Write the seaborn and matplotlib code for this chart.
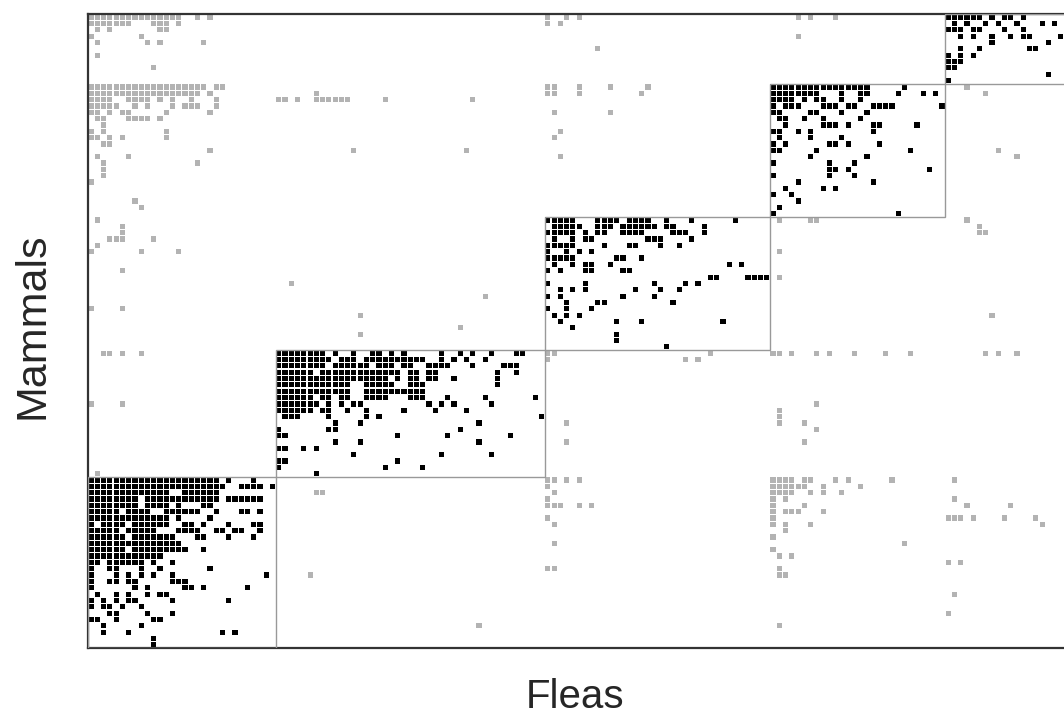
import numpy as np
import pandas as pd
import matplotlib
matplotlib.use("Agg")
import matplotlib.pyplot as plt
from matplotlib.patches import Rectangle
import seaborn as sns

sns.set_style("white")
plt.rcParams['font.family'] = ['Liberation Sans', 'DejaVu Sans']

n_mammals = 100
n_fleas = 156

# modules: first row, first column, number of rows, number of columns
module_row0 = [73, 53, 32, 11, 0]
module_col0 = [0, 30, 73, 109, 137]
module_nrow = [27, 20, 21, 21, 11]
module_ncol = [30, 43, 36, 28, 20]

# black cells inside each module, one string per row (local columns)
module1 = [
    "0-20 22 26", "0-21 24-27 29", "0-12 15-20", "0-7 9-20 22-27",
    "0-7 9-12 14 18 19", "0-4 6-9 12-17 20 24 25 27", "0-12 14 19",
    "0 2-5 7-12 15 16 18 22 26 27", "0-4 6-10 14-17 20 21 23 24 27",
    "0-5 7-13 17 18 22 26", "0-14", "0-5 7-15 18", "0-11", "0 1 3-8 10 13",
    "0 3 4 8 11 19", "0 4 6 8 10 13 28", "0 3 4 6 7 13 14 15",
    "0 7 9 15 16 18 25", "1 4 6 9 11 12", "0 2 4 6 7 13 22", "0 2 3 5 8",
    "3 4 9 13", "0 1 4 10 11", "2 8", "2 6 21 23", "10", "10",
]
module2 = [
    "0-7 9 12 15 16 18 20 26 29 31 34 38 39",
    "0-8 10-12 14-23 26 28 30 33",
    "0-7 9-14 16-18 20 21 24-27 31 36-38",
    "0-5 7-19 21 22 24 25 35 38",
    "0-17 19 21 22 24 25 28 35",
    "0-11 14-18 21-23 35",
    "0-11 14-23",
    "0-5 7 8 10 11 14-17 21-23 27 33 41",
    "0-6 8 10 12 13 24 26 28 34",
    "0-5 7 8 11 14 20 25 30",
    "1-3 8 14 16 42", "9 13 32", "0 8 9 29", "0 1 19 27 37", "9 13 32",
    "0 1 4 6", "12 26 34", "0 1 19", "0 17 23", "6",
]
module3 = [
    "0-4 8-11 13-16 19 23 30", "1-5 8-10 12-17 19 20 25",
    "0-4 6 8 9 12-15 20-22 25", "1 4 6 7 16-18 23", "0-4 9 13 14 18 21",
    "0 3 5 7", "0-4 11 12 15", "1 4 6 7 10 29 31", "0 2 6 7 12 13",
    "26 27 32-35", "0 6 17 22 24", "2 4 6 14 18 21", "0 2 12 17",
    "3 8 9 20", "0 3 7", "1 3 5", "2 11 15 28", "4", "11", "11", "19",
]
module4 = [
    "0-15 21", "0-7 11 14 15 20 24 26", "0-3 5 7 8 11 14",
    "0 2-4 8-10 12 13 16-19 27", "0 1 6 7 11 15", "1 2 5 8 14",
    "2 8-10 12 16 17 23", "0 1 4 6 16", "1 6 11", "0 2 9 10 12 17",
    "0 1 7 22", "6 15", "0 9 13", "9 10 12 25", "0 9 13", "4 16",
    "2 8 10", "0 3", "4", "1", "0 20",
]
module5 = [
    "0-5 7 9 10 12", "1 3 6 8 11 15 17", "0-2 4 5 9 12",
    "2 4 7 10 12 13 18", "7 16", "2 5 13 14", "0 2 4", "0-2", "0 1",
    "16", "0",
]

# grey cells outside the modules: "row: columns"
outside = [
    "0: 0-14 17 19 73 76 78 113 115 119", "1: 0-6 10-12 14 73 75",
    "2: 1 3 11 12", "3: 0 8 113", "4: 1 9 11 18", "5: 81", "6: 1", "8: 10",
    "11: 0-18 20 21 73 74 78 83 89 140",
    "12: 0-17 19 36 73 74 78 88 143",
    "13: 0-3 6-9 11 13 16 20 30 31 33 36-41 47 61",
    "14: 0-4 7 9 13 15-17 20", "15: 0 1 3 5 6 12 19 74 83",
    "16: 1 2 6-9 11", "17: 2", "18: 0 2 12 75", "19: 0 1 3 5 12 74",
    "20: 2 3", "21: 19 42 60 145", "22: 1 6 75 148", "23: 2 17", "24: 2",
    "25: 2", "26: 0", "29: 7", "30: 8", "32: 1 110 115 116 140",
    "33: 5 142", "34: 5 142 143", "35: 3-5 10", "36: 1", "37: 0 8 14 110",
    "40: 5", "41: 110", "42: 32", "44: 63", "46: 0 5", "47: 43 144",
    "49: 59", "50: 43",
    "53: 2 3 5 8 73 74 99 109 110 112 116 118 122 127 131 143 145 148",
    "54: 73 95 97", "61: 0 5 116", "62: 110", "63: 110", "64: 76 110 114",
    "65: 116", "67: 76 114", "72: 1",
    "73: 73 74 76 78 109-112 114 115 119 121 128 138",
    "74: 73 109-114 117 123", "75: 36 37 74 109-112 115 117 120",
    "76: 73 109 111 138", "77: 73-75 78 80 109 114 140 147",
    "78: 109 111-113 117", "79: 73 109 137-139 141 146 151",
    "80: 74 109 111 115 152", "81: 111", "82: 109", "83: 74 130",
    "84: 109", "85: 110 112", "86: 137 139", "87: 73 74 110",
    "88: 35 110 111", "91: 138", "94: 137", "96: 62 110",
]


def parse(text):
    cols = []
    for tok in text.split():
        if '-' in tok:
            a, b = tok.split('-')
            cols.extend(range(int(a), int(b) + 1))
        else:
            cols.append(int(tok))
    return cols


cells = []
for line in outside:
    r, cols = line.split(':')
    for c in parse(cols):
        cells.append((c, int(r), 'outside'))

modules = [module1, module2, module3, module4, module5]
for k, rows in enumerate(modules):
    for i, line in enumerate(rows):
        for c in parse(line):
            col = module_col0[k] + c
            if col < n_fleas:
                cells.append((col, module_row0[k] + i, 'module'))

df = pd.DataFrame(cells, columns=['flea', 'mammal', 'kind'])
df['x'] = df['flea'] + 0.5
df['y'] = df['mammal'] + 0.5

fig = plt.figure(figsize=(10.64, 7.27), dpi=100)
ax = fig.add_axes([88 / 1064, 79 / 727, 976 / 1064, 634 / 727])
sns.scatterplot(data=df, x='x', y='y', hue='kind', ax=ax,
                palette={'outside': '#b3b3b3', 'module': 'black'},
                marker='s', s=14, linewidth=0, legend=False)
ax.set_xlim(0, n_fleas)
ax.set_ylim(n_mammals, 0)
ax.set_xticks([])
ax.set_yticks([])
ax.set_xlabel('')
ax.set_ylabel('')

# module boxes
for k in range(len(modules)):
    ax.add_patch(Rectangle((module_col0[k], module_row0[k]), module_ncol[k], module_nrow[k],
                           fill=False, edgecolor='#999999', lw=1, zorder=3))

for side in ['left', 'top', 'bottom']:
    ax.spines[side].set_color('#333333')
    ax.spines[side].set_linewidth(1.6)
ax.spines['right'].set_visible(False)

fig.text(575 / 1064, 1 - 697 / 727, 'Fleas', fontsize=29, ha='center', va='center')
fig.text(33 / 1064, 1 - 326 / 727, 'Mammals', fontsize=31, ha='center', va='center',
         rotation=90)

fig.savefig('out.png', dpi=100)
